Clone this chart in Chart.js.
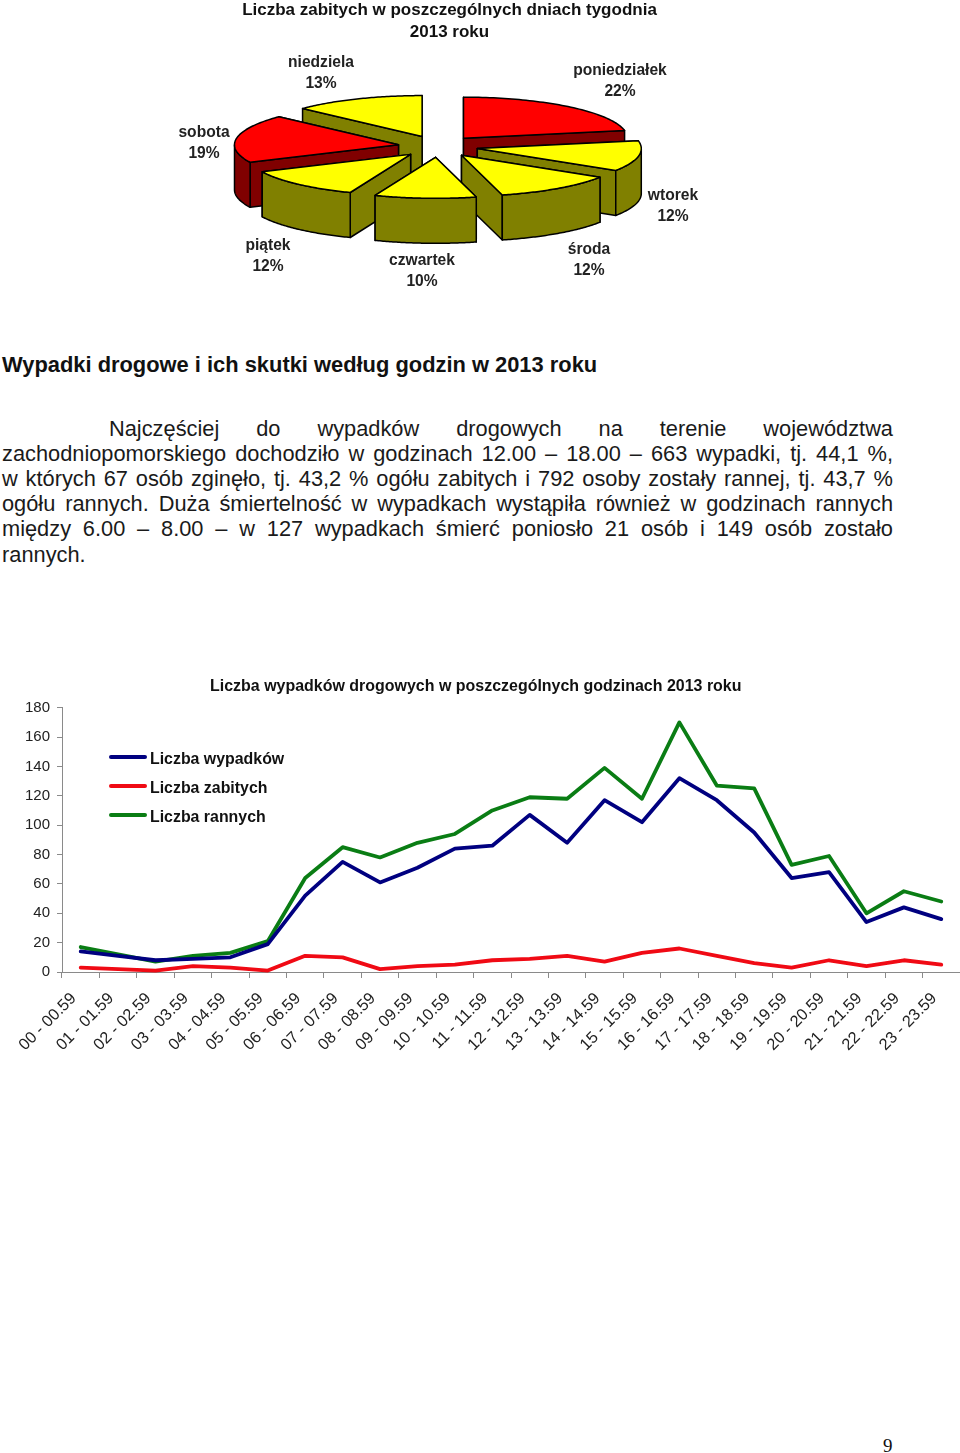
<!DOCTYPE html>
<html lang="pl"><head><meta charset="utf-8">
<script src="https://cdn.jsdelivr.net/npm/chart.js@4"></script>
<style>
html,body{margin:0;padding:0;background:#fff}
body{width:960px;height:1453px;position:relative;overflow:hidden;font-family:"Liberation Sans",Arial,sans-serif;color:#111}
canvas{position:absolute;display:block}
.t{position:absolute;white-space:nowrap}
.c{transform:translateX(-50%);text-align:center}
.b{font-weight:bold}
.j{position:absolute;left:2px;width:891px;font-size:21.8px;line-height:25px;height:25px;white-space:normal;text-align:justify;text-align-last:justify;color:#1a1a1a}
</style></head><body>
<canvas id="pie" width="876" height="293" style="left:0;top:0"></canvas>
<canvas id="line" width="960" height="420" style="left:0;top:660px"></canvas>
<script>
const pieTitle = ["Liczba zabitych w poszczególnych dniach tygodnia", "2013 roku"];
const days = ["poniedziałek", "wtorek", "środa", "czwartek", "piątek", "sobota", "niedziela"];
const dayShares = [22, 12, 12, 10, 12, 19, 13];
const dayColors = ["#FF0000", "#FFFF00", "#FFFF00", "#FFFF00", "#FFFF00", "#FF0000", "#FFFF00"];
const daySideColors = ["#800000", "#808000", "#808000", "#808000", "#808000", "#800000", "#808000"];

const hours = ["00 - 00.59","01 - 01.59","02 - 02.59","03 - 03.59","04 - 04.59","05 - 05.59","06 - 06.59","07 - 07.59","08 - 08.59","09 - 09.59","10 - 10.59","11 - 11.59","12 - 12.59","13 - 13.59","14 - 14.59","15 - 15.59","16 - 16.59","17 - 17.59","18 - 18.59","19 - 19.59","20 - 20.59","21 - 21.59","22 - 22.59","23 - 23.59"];
const accidents = [14,11,8,9,10,19,52,75,61,71,84,86,107,88,117,102,132,117,95,64,68,34,44,36];
const killed = [3,2,1,4,3,1,11,10,2,4,5,8,9,11,7,13,16,11,6,3,8,4,8,5];
const injured = [17,12,7,11,13,21,64,85,78,88,94,110,119,118,139,118,170,127,125,73,79,40,55,48];
const yTicks = [0,20,40,60,80,100,120,140,160,180];
const lineTitle = "Liczba wypadków drogowych w poszczególnych godzinach 2013 roku";

const heading = "Wypadki drogowe i ich skutki według godzin w 2013 roku";
const bodyLines = [
 "Najczęściej do wypadków drogowych na terenie województwa",
 "zachodniopomorskiego dochodziło w godzinach 12.00 – 18.00 – 663 wypadki, tj. 44,1 %,",
 "w których 67 osób zginęło, tj. 43,2 % ogółu zabitych i 792 osoby zostały rannej, tj. 43,7 %",
 "ogółu rannych. Duża śmiertelność w wypadkach wystąpiła również w godzinach rannych",
 "między 6.00 – 8.00 – w 127 wypadkach śmierć poniosło 21 osób i 149 osób zostało",
 "rannych."
];
const pageNumber = "9";

function addText(txt, cls, css){
  const d = document.createElement('div');
  d.className = cls; d.textContent = txt; d.style.cssText = css;
  document.body.appendChild(d); return d;
}
pieTitle.forEach((s,i)=>addText(s,'t c b',`left:449.5px;top:${i*22}px;font-size:17px;line-height:20px`));
const labelPlaces = [[620,70],[673,195],[589,249],[422,260],[268,245],[204,132],[321,62]];
days.forEach((d,i)=>{
  const [x,y]=labelPlaces[i];
  addText(d,'t c b',`left:${x}px;top:${y-10}px;font-size:15.6px;line-height:20px;color:#222`);
  addText(dayShares[i]+'%','t c b',`left:${x}px;top:${y+10.5}px;font-size:15.6px;line-height:20px;color:#222`);
});
addText(heading,'t b','left:2px;top:352px;font-size:21.88px;line-height:26px');
bodyLines.forEach((s,i)=>{
  const el = addText(s,'j',`top:${415.5+i*25.2}px`);
  if(i===0){el.style.left='109px';el.style.width='784px';}
  if(i===bodyLines.length-1){el.style.textAlignLast='left';}
});
addText(lineTitle,'t b','left:210px;top:675.5px;font-size:15.97px;line-height:20px');
addText(pageNumber,'t','left:883px;top:1434.5px;font-size:19px;line-height:22px;font-family:"Liberation Serif",serif');

const SQUASH = 0.25, OFFSET_SQUASH = 0.27, DEPTH = 45;
const pie3d = {
  id:'pie3d',
  beforeDatasetDraw(chart, args){
    const ctx = chart.ctx;
    const arcs = args.meta.data.map((a,i)=>({a,i,mid:(a.startAngle+a.endAngle)/2}));
    arcs.sort((p,q)=>Math.sin(p.mid)-Math.sin(q.mid));
    ctx.save();
    ctx.lineWidth = 1.5; ctx.strokeStyle = '#000'; ctx.lineJoin='round';
    for(const {a,i,mid} of arcs){
      const off = a.options.offset, R = a.outerRadius, cy = a.y;
      const ax = a.x + off*Math.cos(mid), ay = cy + OFFSET_SQUASH*off*Math.sin(mid);
      const pt = t=>[ax+R*Math.cos(t), ay+SQUASH*R*Math.sin(t)];
      const poly = (pts,fill)=>{ctx.beginPath();pts.forEach((p,n)=>n?ctx.lineTo(p[0],p[1]):ctx.moveTo(p[0],p[1]));ctx.closePath();ctx.fillStyle=fill;ctx.fill();ctx.stroke();};
      const walls = [a.startAngle,a.endAngle].sort((u,v)=>Math.sin(u)-Math.sin(v));
      for(const w of walls){
        const p = pt(w);
        poly([[ax,ay],p,[p[0],p[1]+DEPTH],[ax,ay+DEPTH]],daySideColors[i]);
      }
      const steps = 60, top=[], bottom=[];
      for(let s=0;s<=steps;s++){
        const t = a.startAngle+(a.endAngle-a.startAngle)*s/steps;
        const n = ((t%(2*Math.PI))+2*Math.PI)%(2*Math.PI);
        if(n<=Math.PI){const p=pt(t);top.push(p);bottom.unshift([p[0],p[1]+DEPTH]);}
      }
      if(top.length>1) poly(top.concat(bottom),daySideColors[i]);
      const face=[[ax,ay]];
      for(let s=0;s<=steps;s++) face.push(pt(a.startAngle+(a.endAngle-a.startAngle)*s/steps));
      poly(face,dayColors[i]);
    }
    ctx.restore();
    return false;
  }
};
new Chart(document.getElementById('pie'),{
  type:'pie',
  data:{labels:days,datasets:[{data:dayShares,backgroundColor:dayColors,offset:40,borderWidth:0}]},
  options:{responsive:false,animation:false,radius:164,layout:{padding:0},
    plugins:{legend:{display:false},tooltip:{enabled:false}}},
  plugins:[pie3d]
});

const lineSets = [
  {label:"Liczba wypadków",data:accidents,borderColor:"#000080"},
  {label:"Liczba zabitych",data:killed,borderColor:"#F00A14"},
  {label:"Liczba rannych",data:injured,borderColor:"#0A7D14"}
];
const AXIS='#8a8a8a';
const lineChart = new Chart(document.getElementById('line'),{
  type:'line',
  data:{labels:hours,datasets:lineSets.map(s=>({...s,borderWidth:3.8,pointRadius:0,tension:0,fill:false,borderCapStyle:'round',borderJoinStyle:'round',clip:false}))},
  options:{responsive:false,animation:false,
    layout:{padding:{top:47.7,right:0,left:0,bottom:0}},
    plugins:{legend:{display:false},tooltip:{enabled:false}},
    scales:{
      x:{type:'category',offset:true,
        grid:{offset:true,drawOnChartArea:false,drawTicks:true,tickLength:6,color:AXIS},
        border:{color:AXIS,width:1},
        ticks:{autoSkip:false,minRotation:45,maxRotation:45,font:{family:'"Liberation Sans"',size:16.3},color:'#222',padding:11,labelOffset:-7},
        afterFit(s){s.height=108;s.paddingLeft=0;s.paddingRight=0;}
      },
      y:{min:0,max:180,
        afterBuildTicks(s){s.ticks=yTicks.map(v=>({value:v}));},
        grid:{drawOnChartArea:false,drawTicks:true,tickLength:5,color:AXIS},
        border:{color:AXIS,width:1},
        ticks:{font:{family:'"Liberation Sans"',size:15},color:'#222',padding:7},
        afterFit(s){s.width=62;}
      }
    }
  }
});
lineSets.forEach((s,i)=>{
  const y = 757+i*29;
  const sw = document.createElement('div');
  sw.style.cssText=`position:absolute;left:109px;top:${y-2}px;width:38px;height:3.6px;border-radius:2px;background:${s.borderColor}`;
  document.body.appendChild(sw);
  addText(s.label,'t b',`left:150px;top:${y-8.5}px;font-size:15.9px;line-height:20px`);
});
</script>
</body></html>
